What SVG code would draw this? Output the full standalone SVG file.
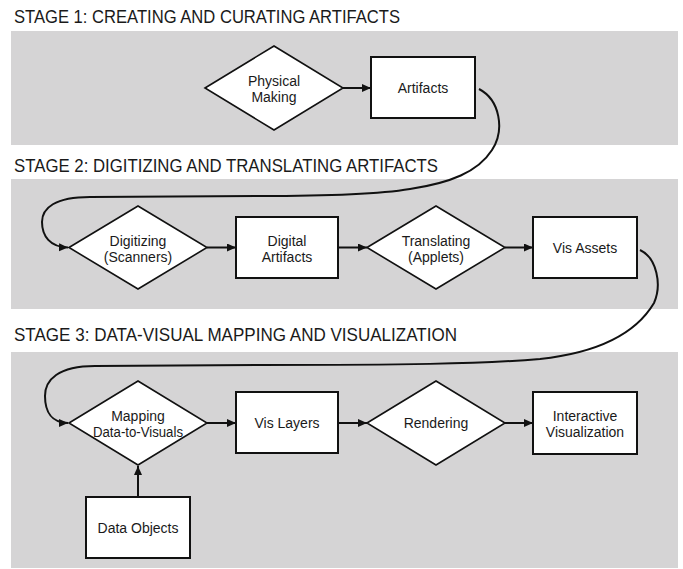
<svg xmlns="http://www.w3.org/2000/svg" width="683" height="569" viewBox="0 0 683 569">
<style>
.band{fill:#d5d4d5}
.title{font-family:"Liberation Sans",Arial,sans-serif;font-size:17.5px;fill:#1a1a1a}
.box{fill:#fff;stroke:#111;stroke-width:2}
.dia{fill:#fff;stroke:#111;stroke-width:1.6}
.lbl{font-family:"Liberation Sans",Arial,sans-serif;font-size:14px;fill:#1a1a1a;text-anchor:middle}
.edge{fill:none;stroke:#111;stroke-width:2}
</style>
<defs>
<marker id="ah" markerUnits="userSpaceOnUse" markerWidth="10" markerHeight="9" refX="9" refY="4" orient="auto">
<path d="M0,0 L9,4 L0,8 z" fill="#111"/>
</marker>
</defs>
<rect width="683" height="569" fill="#fff"/>
<g id="stages">
<rect class="band" x="11" y="31" width="667" height="114"/>
<rect class="band" x="11" y="179" width="667" height="130"/>
<rect class="band" x="11" y="352" width="667" height="216"/>
<text class="title" x="14" y="22.7" textLength="386" lengthAdjust="spacingAndGlyphs">STAGE 1: CREATING AND CURATING ARTIFACTS</text>
<text class="title" x="14" y="171.7" textLength="424" lengthAdjust="spacingAndGlyphs">STAGE 2: DIGITIZING AND TRANSLATING ARTIFACTS</text>
<text class="title" x="14" y="340.7" textLength="443" lengthAdjust="spacingAndGlyphs">STAGE 3: DATA-VISUAL MAPPING AND VISUALIZATION</text>
</g>
<g id="connectors">
<line class="edge" x1="343" y1="88" x2="371" y2="88" marker-end="url(#ah)"/>
<line class="edge" x1="207" y1="247.5" x2="236" y2="247.5" marker-end="url(#ah)"/>
<line class="edge" x1="338" y1="247.5" x2="367" y2="247.5" marker-end="url(#ah)"/>
<line class="edge" x1="505" y1="247.5" x2="533" y2="247.5" marker-end="url(#ah)"/>
<line class="edge" x1="207" y1="423" x2="236" y2="423" marker-end="url(#ah)"/>
<line class="edge" x1="338" y1="423" x2="367" y2="423" marker-end="url(#ah)"/>
<line class="edge" x1="505" y1="423" x2="533" y2="423" marker-end="url(#ah)"/>
<line class="edge" x1="138" y1="497" x2="138" y2="466" marker-end="url(#ah)"/>
<path class="edge" d="M479,89 C500,100 505,130 492,150 C478,172 450,183 410,189 C380,194 330,196 260,196 L90,197 C55,197 42,208 42,222 C42,236 50,247 68,247.5" marker-end="url(#ah)"/>
<path class="edge" d="M640,250 C657,258 662,285 654,303 C635,335 595,353 540,359 C480,364 400,365 260,365 L95,366 C58,366 45,380 45,396 C45,412 52,423 68,423" marker-end="url(#ah)"/>
</g>
<g id="physical-making">
<polygon class="dia" points="205,88 274,46 343,88 274,130"/>
<text class="lbl" x="274" y="86">Physical</text>
<text class="lbl" x="274" y="102">Making</text>
</g>
<g id="artifacts">
<rect class="box" x="371" y="57" width="104" height="61"/>
<text class="lbl" x="423" y="93">Artifacts</text>
</g>
<g id="digitizing">
<polygon class="dia" points="69,247.5 138,206 207,247.5 138,289"/>
<text class="lbl" x="138" y="245.5">Digitizing</text>
<text class="lbl" x="138" y="261.5">(Scanners)</text>
</g>
<g id="digital-artifacts">
<rect class="box" x="236" y="217" width="102" height="61"/>
<text class="lbl" x="287" y="245.5">Digital</text>
<text class="lbl" x="287" y="261.5">Artifacts</text>
</g>
<g id="translating">
<polygon class="dia" points="367,247.5 436,206 505,247.5 436,289"/>
<text class="lbl" x="436" y="245.5">Translating</text>
<text class="lbl" x="436" y="261.5">(Applets)</text>
</g>
<g id="vis-assets">
<rect class="box" x="533" y="217" width="104" height="61"/>
<text class="lbl" x="585" y="252.5">Vis Assets</text>
</g>
<g id="mapping">
<polygon class="dia" points="69,423 138,381 207,423 138,465"/>
<text class="lbl" x="138" y="420.5">Mapping</text>
<text class="lbl" x="138" y="437" textLength="90" lengthAdjust="spacingAndGlyphs">Data-to-Visuals</text>
</g>
<g id="vis-layers">
<rect class="box" x="236" y="392" width="102" height="61"/>
<text class="lbl" x="287" y="428">Vis Layers</text>
</g>
<g id="rendering">
<polygon class="dia" points="367,423 436,381 505,423 436,465"/>
<text class="lbl" x="436" y="428">Rendering</text>
</g>
<g id="interactive-visualization">
<rect class="box" x="533" y="392" width="104" height="62"/>
<text class="lbl" x="585" y="420.5">Interactive</text>
<text class="lbl" x="585" y="437">Visualization</text>
</g>
<g id="data-objects">
<rect class="box" x="86" y="497" width="104" height="61"/>
<text class="lbl" x="138" y="532.5">Data Objects</text>
</g>
</svg>
